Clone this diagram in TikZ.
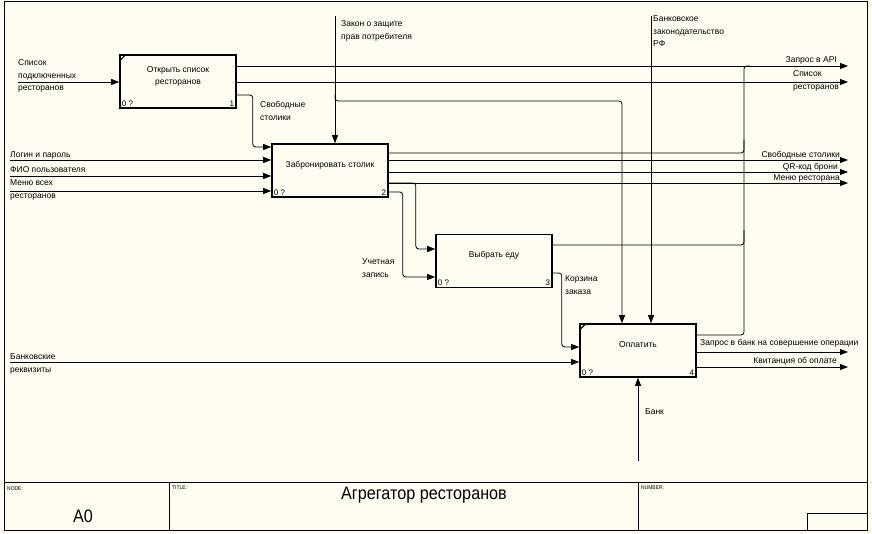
\documentclass[tikz,border=0pt]{standalone}
\usepackage{fontspec}
\setmainfont{Liberation Sans}
\newfontfamily\narrowfont[FakeStretch=0.9]{Liberation Sans}
\usetikzlibrary{arrows.meta,positioning}
\definecolor{paper}{HTML}{FFFCF2}
\tikzstyle{funcBox} = [rectangle, draw=black, line width=1.6pt, minimum width=116pt, minimum height=53pt, inner sep=0pt]
\tikzstyle{boxText} = [align=center, font=\fontsize{8.5}{12}\selectfont, inner sep=0pt]
\tikzstyle{cornerNum} = [font=\fontsize{8}{9}\selectfont, inner sep=2.5pt]
\tikzstyle{lbl} = [align=left, font=\fontsize{8.5}{12.5}\selectfont, inner sep=0pt]
\tikzstyle{lblR} = [lbl, align=right, anchor=north east]
\tikzstyle{arrow} = [line width=0.8pt, -{Triangle[length=8pt,width=6pt]}, rounded corners=3pt]
\tikzstyle{wire} = [line width=0.8pt, rounded corners=3pt]
\tikzstyle{frameText} = [font=\narrowfont\fontsize{5.5}{6}\selectfont, inner sep=0pt, anchor=north west]

\begin{document}
\begin{tikzpicture}[x=1pt,y=-1pt]
    \useasboundingbox[fill=paper] (0,0) rectangle (872,534);
    % frame and title block
    \draw[line width=1pt] (4,2) rectangle (867,530);
    \draw[line width=1pt] (4,482) -- (867,482) (169,482) -- (169,530) (638,482) -- (638,530);
    \draw[line width=1pt] (807,530) -- (807,513) -- (867,513);
    \node (node-h) [frameText] at (7,486) {NODE:};
    \node (title-h) [frameText] at (172,486) {TITLE:};
    \node (number-h) [frameText] at (641,486) {NUMBER:};
    \node (node-v) [font=\narrowfont\fontsize{18}{20}\selectfont] at (83,516) {A0};
    \node (title-v) [font=\narrowfont\fontsize{18}{20}\selectfont] at (424,495) {Агрегатор ресторанов};

    % functions (gaps minus the outer line width)
    \node (open) [funcBox] at (178,81.5) {};
    \node (book) [funcBox, right=34.4pt of open, yshift=-89pt] {};
    \node (choose) [funcBox, right=46.4pt of book, yshift=-90.5pt] {};
    \node (pay) [funcBox, right=26.4pt of choose, yshift=-89.5pt] {};
    \draw[line width=1.2pt] ([yshift=-7pt]open.north west) -- ([xshift=7pt]open.north west);
    \draw[line width=1.2pt] ([yshift=-7pt]pay.north west) -- ([xshift=7pt]pay.north west);

    \node (open-t) [boxText] at ([yshift=5.5pt]open.center) {Открыть список\\ресторанов};
    \node (book-t) [boxText] at ([yshift=5.5pt]book.center) {Забронировать столик};
    \node (choose-t) [boxText] at ([yshift=5.5pt]choose.center) {Выбрать еду};
    \node (pay-t) [boxText] at ([yshift=5.5pt]pay.center) {Оплатить};
    \foreach \f/\n in {open/1, book/2, choose/3, pay/4} {
        \node (\f-c) [cornerNum, anchor=south west] at (\f.south west) {0 ?};
        \node (\f-n) [cornerNum, anchor=south east] at (\f.south east) {\n};
    }

    % free ends
    \coordinate (in-list) at (18,82);
    \coordinate (in-login) at (10,160);
    \coordinate (in-fio) at (10,176);
    \coordinate (in-menu) at (10,191);
    \coordinate (in-req) at (10,362);
    \coordinate (law) at (335,16);
    \coordinate (banklaw) at (651,16);
    \coordinate (bank) at (638,461);
    \coordinate (out-api) at (848,66);
    \coordinate (out-list) at (848,82);
    \coordinate (out-free) at (848,160);
    \coordinate (out-qr) at (848,172);
    \coordinate (out-menu) at (848,183);
    \coordinate (out-bankreq) at (848,352);
    \coordinate (out-receipt) at (848,367);
    \coordinate (join) at (744,66);
    \coordinate (ctl-bend) at (622,101);

    % inputs
    \draw [arrow] (in-list) -- (open.west |- in-list);
    \draw [arrow] (in-login) -- (book.west |- in-login);
    \draw [arrow] (in-fio) -- (book.west |- in-fio);
    \draw [arrow] (in-menu) -- (book.west |- in-menu);
    \draw [arrow] (in-req) -- (pay.west |- in-req);
    \draw [arrow] (open.east |- 0,95) -- ++(16,0) |- (book.west |- 0,147);
    \draw [arrow] (book.east |- 0,192) -- ++(14,0) |- (choose.west |- 0,277);
    \draw [arrow] (book.east |- 0,183) -- ++(27,0) |- (choose.west |- 0,249);
    \draw [arrow] (choose.east |- 0,273) -- ++(9,0) |- (pay.west |- 0,347);

    % controls and mechanism
    \draw [arrow] (law) -- (law |- book.north);
    \draw [arrow] (law |- 0,95) |- (ctl-bend) -- (ctl-bend |- pay.north);
    \draw [arrow] (banklaw) -- (banklaw |- pay.north);
    \draw [arrow] (bank) -- (pay.south);

    % outputs
    \draw [arrow] (open.east |- out-api) -- (out-api);
    \draw [arrow] (open.east |- out-list) -- (out-list);
    \draw [arrow] (book.east |- out-free) -- (out-free);
    \draw [arrow] (book.east |- out-qr) -- (out-qr);
    \draw [arrow] (book.east |- out-menu) -- (out-menu);
    \draw [arrow] (pay.east |- out-bankreq) -- (out-bankreq);
    \draw [arrow] (pay.east |- out-receipt) -- (out-receipt);
    \draw [wire] (pay.east |- 0,335) -| (join) -- ++(6,0);
    \draw [wire] (choose.east |- 0,245) -| (join |- 0,230);
    \draw [wire] (book.east |- 0,153) -| (join |- 0,140);

    % labels
    \node (l-list) [lbl, anchor=north west] at (18,59.5) {Список\\подключенных\\ресторанов};
    \node (l-free) [lbl, anchor=north west] at (260,101.5) {Свободные\\столики};
    \node (l-login) [lbl, anchor=north west] at (10,151.5) {Логин и пароль};
    \node (l-fio) [lbl, anchor=north west] at (10,166.5) {ФИО пользователя};
    \node (l-menu) [lbl, anchor=north west] at (10,179.5) {Меню всех\\ресторанов};
    \node (l-req) [lbl, anchor=north west] at (10,353.5) {Банковские\\реквизиты};
    \node (l-law) [lbl, anchor=north west] at (341,20.5) {Закон о защите\\прав потребителя};
    \node (l-banklaw) [lbl, anchor=north west] at (653,15.5) {Банковское\\законодательство\\РФ};
    \node (l-acc) [lbl, anchor=north west] at (362,258.5) {Учетная\\запись};
    \node (l-cart) [lbl, anchor=north west] at (565,275.5) {Корзина\\заказа};
    \node (l-bank) [lbl, anchor=north west] at (645,408.5) {Банк};
    \node (l-api) [lblR] at (837,56.5) {Запрос в API};
    \node (l-rest) [lbl, anchor=north west] at (793,70.5) {Список\\ресторанов};
    \node (l-ofree) [lblR] at (840,151.5) {Свободные столики};
    \node (l-qr) [lblR] at (838,163.5) {QR-код брони};
    \node (l-omenu) [lblR] at (840,174.5) {Меню ресторана};
    \node (l-bankreq) [lbl, anchor=north west] at (700,339.5) {Запрос в банк на совершение операции};
    \node (l-receipt) [lblR] at (837,357.5) {Квитанция об оплате};
\end{tikzpicture}
\end{document}
